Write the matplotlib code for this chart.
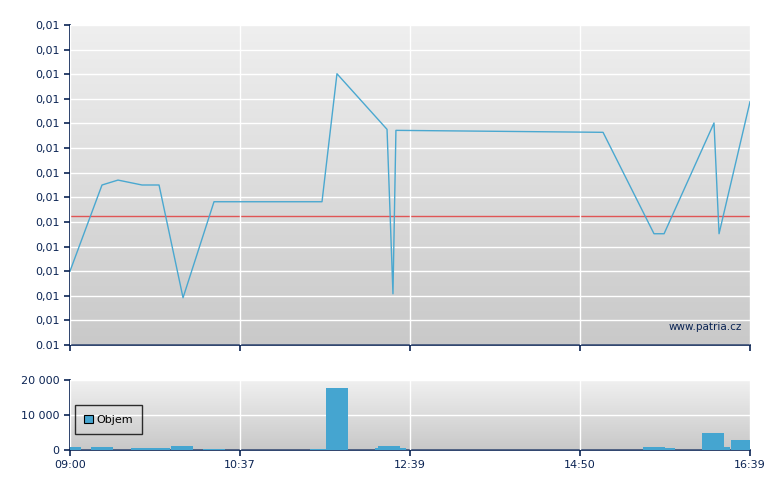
import numpy as np
import matplotlib
matplotlib.use('Agg')
import matplotlib.pyplot as plt
from matplotlib.ticker import FuncFormatter, FixedLocator

# ── Data (x in trading minutes since open, axis spans 0..459) ──
price_t = [0, 21.6, 32.4, 48.6, 60.1, 76.3, 97.2, 170.1, 180.2, 214.0, 218.0, 220.0,
           359.8, 394.2, 401.0, 434.7, 438.1, 459.0]
price_v = [0.00750, 0.00925, 0.00935, 0.00925, 0.00925, 0.00696, 0.00891, 0.00891,
           0.01151, 0.01038, 0.00704, 0.01036, 0.01032, 0.00826, 0.00826, 0.01051,
           0.00826, 0.01094]
ref_price = 0.00862

vol_left = [0, 14.2, 41.2, 56.0, 68.2, 89.8, 162.0, 172.8, 205.9, 207.9, 222.8,
            386.8, 401.6, 426.6, 441.5, 446.2]
vol_right = [7.4, 29.0, 56.0, 67.5, 83.0, 104.6, 172.8, 187.7, 207.9, 222.8, 226.8,
             401.6, 408.4, 441.5, 445.5, 459.0]
vol_value = [900, 900, 600, 600, 1200, 300, 300, 17700, 600, 1200, 600,
             900, 600, 4900, 900, 2900]

tick_pos = [0, 114.75, 229.5, 344.25, 459]
tick_lbl = ['09:00', '10:37', '12:39', '14:50', '16:39']

navy = '#0b2454'
line_c = '#4aa8d0'

fig = plt.figure(figsize=(7.8, 4.9), dpi=100)
ax1 = fig.add_axes([70/780, 145/490, 680/780, 320/490])
ax2 = fig.add_axes([70/780, 40/490, 680/780, 70/490])


def gradient(ax, top, bottom):
    c1 = np.array(matplotlib.colors.to_rgb(top))
    c2 = np.array(matplotlib.colors.to_rgb(bottom))
    t = np.linspace(0, 1, 256)[:, None]
    img = (c1 * (1 - t) + c2 * t)[:, None, :]
    ax.imshow(img, extent=[0, 1, 0, 1], transform=ax.transAxes,
              aspect='auto', zorder=0, interpolation='bilinear')


def style(ax):
    for s in ['top', 'right']:
        ax.spines[s].set_visible(False)
    for s in ['left', 'bottom']:
        ax.spines[s].set_color(navy)
        ax.spines[s].set_linewidth(1.2)
    ax.tick_params(colors=navy, labelsize=8, length=4, width=1.2, labelcolor=navy)
    ax.grid(True, color='white', linewidth=1.0, zorder=1)
    ax.set_axisbelow(False)
    ax.set_xlim(0, 459)
    ax.xaxis.set_major_locator(FixedLocator(tick_pos))


# ── Price panel ──
gradient(ax1, '#efefef', '#c9c9c9')
style(ax1)
ax1.set_ylim(0.006, 0.0125)
yt = np.arange(0.006, 0.01251, 0.0005)
ax1.yaxis.set_major_locator(FixedLocator(yt))
ax1.yaxis.set_major_formatter(FuncFormatter(
    lambda v, p: f'{v:.2f}' if v < 0.00601 else f'{v:.2f}'.replace('.', ',')))
ax1.set_xticklabels([])
ax1.axhline(ref_price, color='#e05555', linewidth=1.0, zorder=2)
ax1.plot(price_t, price_v, color=line_c, linewidth=1.0, zorder=3)
ax1.text(0.988, 0.055, 'www.patria.cz', transform=ax1.transAxes, ha='right',
         va='center', fontsize=7.5, color=navy, zorder=4)

# ── Volume panel ──
gradient(ax2, '#f0f0f0', '#c8c8c8')
style(ax2)
ax2.set_ylim(0, 20000)
ax2.yaxis.set_major_locator(FixedLocator([0, 10000, 20000]))
ax2.yaxis.set_major_formatter(FuncFormatter(lambda v, p: f'{int(v):,}'.replace(',', ' ')))
ax2.set_xticklabels(tick_lbl)
widths = [r - l for l, r in zip(vol_left, vol_right)]
ax2.bar(vol_left, vol_value, width=widths, align='edge', color='#45a5d0',
        linewidth=0, zorder=3, label='Objem')
leg = ax2.legend(loc='upper left', bbox_to_anchor=(0.007, 0.64), fontsize=8,
                 frameon=True, fancybox=False, facecolor='none', framealpha=None,
                 edgecolor='black', handlelength=0.8, handleheight=0.8,
                 handletextpad=0.3, borderpad=0.85, borderaxespad=0,
                 labelcolor='black')
leg.get_frame().set_linewidth(1.0)
leg.legend_handles[0].set_edgecolor('black')
leg.legend_handles[0].set_linewidth(0.8)
leg.set_zorder(5)

fig.savefig('out.png', dpi=100, facecolor='white')
